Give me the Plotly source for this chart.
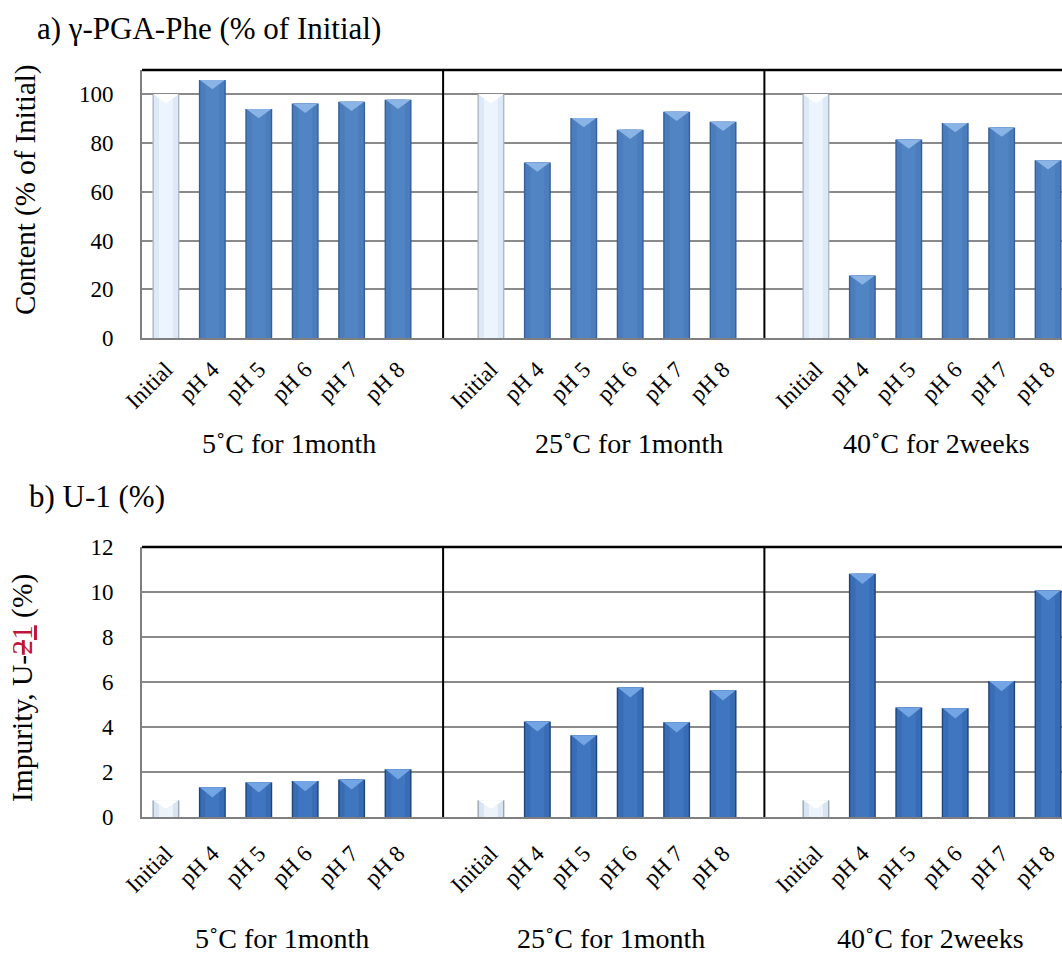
import plotly.graph_objects as go

# Storage conditions (groups) and samples within each group
conditions = ["5˚C for 1month", "25˚C for 1month", "40˚C for 2weeks"]
samples = ["Initial", "pH 4", "pH 5", "pH 6", "pH 7", "pH 8"]

# a) γ-PGA-Phe content, % of initial
content_5c = [100.0, 105.9, 94.0, 96.2, 97.0, 97.8]
content_25c = [100.0, 72.0, 90.3, 85.5, 92.9, 88.8]
content_40c = [100.0, 25.7, 81.5, 88.2, 86.4, 73.0]

# b) U-1 impurity, %
u1_5c = [0.74, 1.32, 1.54, 1.60, 1.67, 2.12]
u1_25c = [0.74, 4.25, 3.63, 5.76, 4.21, 5.63]
u1_40c = [0.74, 10.81, 4.87, 4.83, 6.04, 10.07]

FONT = "Liberation Serif"
W, H = 1062, 953
SLOT = len(samples) + 1          # one empty slot between condition groups
BAR_W = 0.58

xs, labels = [], []
for g in range(len(conditions)):
    for j, s in enumerate(samples):
        xs.append(g * SLOT + j)
        labels.append(s)
is_initial = [lab == "Initial" for lab in labels]

fig = go.Figure()


def add_bars(values, xa, ya, pal, cap_depth):
    layers = [(BAR_W, "edge"), (BAR_W - 0.06, "body"), (0.30, "core")]
    for width, key in layers:
        cols = [pal["init_" + key] if ini else pal[key] for ini in is_initial]
        fig.add_trace(go.Bar(
            x=xs, y=values, width=width, marker=dict(color=cols, line=dict(width=0)),
            xaxis=xa, yaxis=ya, showlegend=False, hoverinfo="skip"))
    # bevelled top of each bar
    for ini in (False, True):
        px, py = [], []
        for x, v, flag in zip(xs, values, is_initial):
            if flag != ini:
                continue
            d = min(cap_depth, v * 0.5)
            px += [x - BAR_W / 2 + 0.02, x + BAR_W / 2 - 0.02, x, x - BAR_W / 2 + 0.02, None]
            py += [v, v, v - d, v, None]
        fig.add_trace(go.Scatter(
            x=px, y=py, mode="lines", fill="toself",
            fillcolor=pal["init_cap"] if ini else pal["cap"],
            line=dict(width=0), xaxis=xa, yaxis=ya, showlegend=False, hoverinfo="skip"))


pal_a = dict(edge="#35609a", body="#4b7dbc", core="#5184c3", cap="#8ab3e6",
             init_edge="#aeb8c4", init_body="#dde9f6", init_core="#ecf4fd", init_cap="#ffffff")
pal_b = dict(edge="#1f4478", body="#386db5", core="#3f76bf", cap="#73a4e4",
             init_edge="#9aa6b4", init_body="#d9e4f1", init_core="#edf3fa", init_cap="#ffffff")

add_bars(content_5c + content_25c + content_40c, "x", "y", pal_a, 3.8)
add_bars(u1_5c + u1_25c + u1_40c, "x2", "y2", pal_b, 0.45)

X_RANGE = [-0.515, 19.3]


def fnt(size, color="black"):
    return dict(family=FONT, size=size, color=color)


xaxis_common = dict(
    range=X_RANGE, tickmode="array", tickvals=xs, ticktext=labels, tickangle=-45,
    tickfont=fnt(23), showgrid=False, zeroline=False, showline=True,
    linecolor="#7f7f7f", linewidth=2, ticks="", domain=[142 / W, 1.0],
    automargin=False)
yaxis_common = dict(
    showgrid=True, gridcolor="#8a8a8a", gridwidth=1.6, zeroline=False,
    showline=True, linecolor="#7f7f7f", linewidth=2, ticks="",
    tickfont=fnt(23), ticklabelstandoff=22, automargin=False)

fig.update_layout(
    template="none",
    width=W, height=H, margin=dict(l=0, r=0, t=0, b=0, pad=0),
    paper_bgcolor="white", plot_bgcolor="white", barmode="overlay",
    font=fnt(22), showlegend=False,
    xaxis=dict(xaxis_common, anchor="y", ticklabelstandoff=7),
    yaxis=dict(yaxis_common, range=[0, 110], tickvals=[0, 20, 40, 60, 80, 100],
               domain=[1 - 338 / H, 1 - 70 / H], anchor="x"),
    xaxis2=dict(xaxis_common, anchor="y2", ticklabelstandoff=12),
    yaxis2=dict(yaxis_common, range=[0, 12], dtick=2,
                domain=[1 - 817 / H, 1 - 547 / H], anchor="x2"),
)

# frame top edges and group separators
seps = [SLOT - 1 - 0.03, 2 * SLOT - 1 - 0.11]
for xa, ya in (("x", "y"), ("x2", "y2")):
    fig.add_shape(type="line", xref=f"{xa} domain", yref=f"{ya} domain",
                  x0=0, x1=1, y0=1, y1=1, line=dict(color="black", width=2.5))
    for s in seps:
        fig.add_shape(type="line", xref=xa, yref=f"{ya} domain",
                      x0=s, x1=s, y0=0, y1=1, line=dict(color="black", width=2))

# panel titles
fig.add_annotation(text="a) γ-PGA-Phe (% of Initial)", xref="paper", yref="paper",
                   x=35 / W, y=1 - 28 / H, xanchor="left", yanchor="middle",
                   showarrow=False, font=fnt(31))
fig.add_annotation(text="b) U-1 (%)", xref="paper", yref="paper",
                   x=27 / W, y=1 - 496 / H, xanchor="left", yanchor="middle",
                   showarrow=False, font=fnt(31))

# axis titles
fig.add_annotation(text="Content (% of Initial)", xref="paper", yref="paper",
                   x=26 / W, y=1 - 190 / H, textangle=-90, xanchor="center",
                   yanchor="middle", showarrow=False, font=fnt(29))
fig.add_annotation(
    text="Impurity, U-<span style='color:#c0143c'><s>2</s><u>1</u></span> (%)",
    xref="paper", yref="paper", x=22 / W, y=1 - 688 / H, textangle=-90,
    xanchor="center", yanchor="middle", showarrow=False, font=fnt(29.5))

# condition group labels
for cond, xp in zip(conditions, (289, 629, 936)):
    fig.add_annotation(text=cond, xref="paper", yref="paper", x=xp / W, y=1 - 443 / H,
                       xanchor="center", yanchor="middle", showarrow=False,
                       font=fnt(28))
for cond, xp in zip(conditions, (282, 611, 930)):
    fig.add_annotation(text=cond, xref="paper", yref="paper", x=xp / W, y=1 - 938 / H,
                       xanchor="center", yanchor="middle", showarrow=False,
                       font=fnt(28))

fig.write_html("out.html")
